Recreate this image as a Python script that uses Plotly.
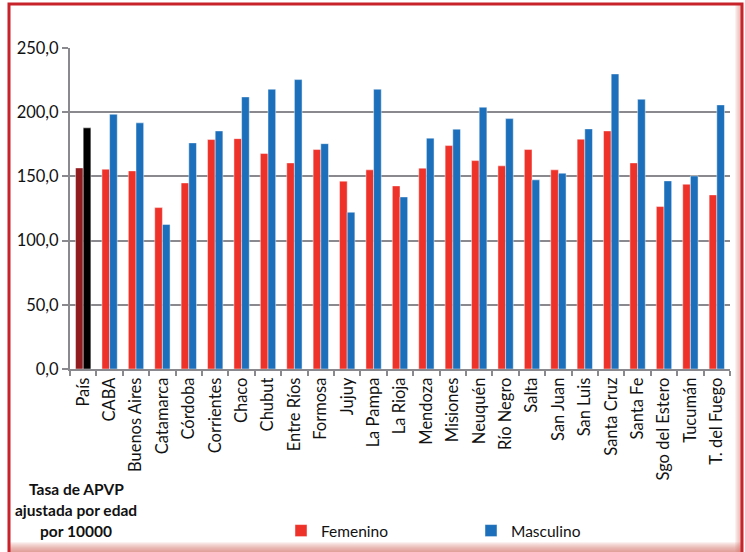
import plotly.graph_objects as go

# Provinces (categories) and age-adjusted APVP rates per 10000
provincias = ["País", "CABA", "Buenos Aires", "Catamarca", "Córdoba", "Corrientes",
              "Chaco", "Chubut", "Entre Ríos", "Formosa", "Jujuy", "La Pampa",
              "La Rioja", "Mendoza", "Misiones", "Neuquén", "Río Negro", "Salta",
              "San Juan", "San Luis", "Santa Cruz", "Santa Fe", "Sgo del Estero",
              "Tucumán", "T. del Fuego"]
femenino = [156.6, 155.6, 154.3, 125.7, 144.9, 178.7, 179.4, 167.8, 160.5, 170.9,
            146.3, 155.1, 142.6, 156.4, 174.0, 162.3, 158.2, 170.9, 155.1, 179.0,
            185.4, 160.5, 126.5, 143.9, 135.6]
masculino = [187.8, 198.4, 191.7, 112.5, 176.1, 185.4, 211.9, 217.9, 225.4, 175.5,
             122.1, 217.9, 134.0, 179.8, 186.8, 203.9, 195.0, 147.3, 152.5, 187.0,
             229.8, 210.1, 146.5, 150.4, 205.7]
y_ticks = [0, 50, 100, 150, 200, 250]

W, H = 745, 552
L, R, T, B = 70, 15, 48, 183
PW, PH = W - L - R, H - T - B


def px(x):
    return (x - L) / PW


def py(y):
    return (H - B - y) / PH


FONT = "Lato"
RED, BLUE = "#EE3129", "#1C6FBA"
edge = dict(color="rgba(255,255,255,0.45)", width=1)

fig = go.Figure()
# National totals, drawn in their own colours and kept out of the legend
fig.add_trace(go.Bar(x=provincias[:1], y=femenino[:1], offsetgroup="f",
                     marker=dict(color="#921B1F", line=edge), showlegend=False))
fig.add_trace(go.Bar(x=provincias[:1], y=masculino[:1], offsetgroup="m",
                     marker=dict(color="#000000", line=edge), showlegend=False))
fig.add_trace(go.Bar(x=provincias[1:], y=femenino[1:], name="Femenino", offsetgroup="f",
                     marker=dict(color=RED, line=edge)))
fig.add_trace(go.Bar(x=provincias[1:], y=masculino[1:], name="Masculino", offsetgroup="m",
                     marker=dict(color=BLUE, line=edge)))

shapes = [
    # frame shadow fading inwards on the right and bottom
    *[dict(type="rect", xref="paper", yref="paper",
           x0=px(742 - 7 + i), x1=px(742), y0=py(552), y1=py(4),
           fillcolor="rgba(220,120,110,0.10)", line=dict(width=0), layer="below")
      for i in range(7)],
    *[dict(type="rect", xref="paper", yref="paper",
           x0=px(9), x1=px(742), y0=py(552), y1=py(552 - 10 + i),
           fillcolor="rgba(220,120,110,0.10)", line=dict(width=0), layer="below")
      for i in range(10)],
    # red outer frame
    dict(type="rect", xref="paper", yref="paper",
         x0=px(9), x1=px(742), y0=py(556), y1=py(4),
         line=dict(color="#C8232B", width=3), layer="above"),
]

annotations = [
    dict(text=f"<b>{t}</b>", x=px(76), y=py(yy), xref="paper", yref="paper",
         showarrow=False, xanchor="center", yanchor="middle",
         font=dict(family=FONT, size=15.5, color="#111111"))
    for t, yy in [("Tasa de APVP", 489), ("ajustada por edad", 510), ("por 10000", 531)]
]

fig.update_layout(
    width=W, height=H,
    margin=dict(l=L, r=R, t=T, b=B, autoexpand=False),
    paper_bgcolor="white", plot_bgcolor="white",
    barmode="group", bargap=0.42, bargroupgap=0,
    separators=",.",
    font=dict(family=FONT, size=16, color="#111111"),
    shapes=shapes, annotations=annotations,
    legend=dict(orientation="h", x=px(281), y=py(531), xanchor="left", yanchor="middle",
                entrywidth=145, entrywidthmode="pixels",
                font=dict(family=FONT, size=15.5, color="#111111"),
                bgcolor="rgba(0,0,0,0)"),
)
fig.update_xaxes(
    type="category", tickangle=-90, tickson="boundaries",
    ticks="outside", ticklen=5, tickcolor="#8A8A8E", tickwidth=1.5,
    showline=True, linecolor="#8A8A8E", linewidth=2,
    tickfont=dict(family=FONT, size=16.5, color="#111111"),
    showgrid=False,
)
fig.update_yaxes(
    range=[0, 250], tickvals=y_ticks, tickformat=".1f",
    ticks="outside", ticklen=6, tickcolor="#8A8A8E", tickwidth=1.5,
    showline=True, linecolor="#8A8A8E", linewidth=2,
    showgrid=True, gridcolor="#8A8A8E", gridwidth=1.5,
    zeroline=False,
    tickfont=dict(family=FONT, size=16.5, color="#111111"),
)

fig.write_html("out.html")
